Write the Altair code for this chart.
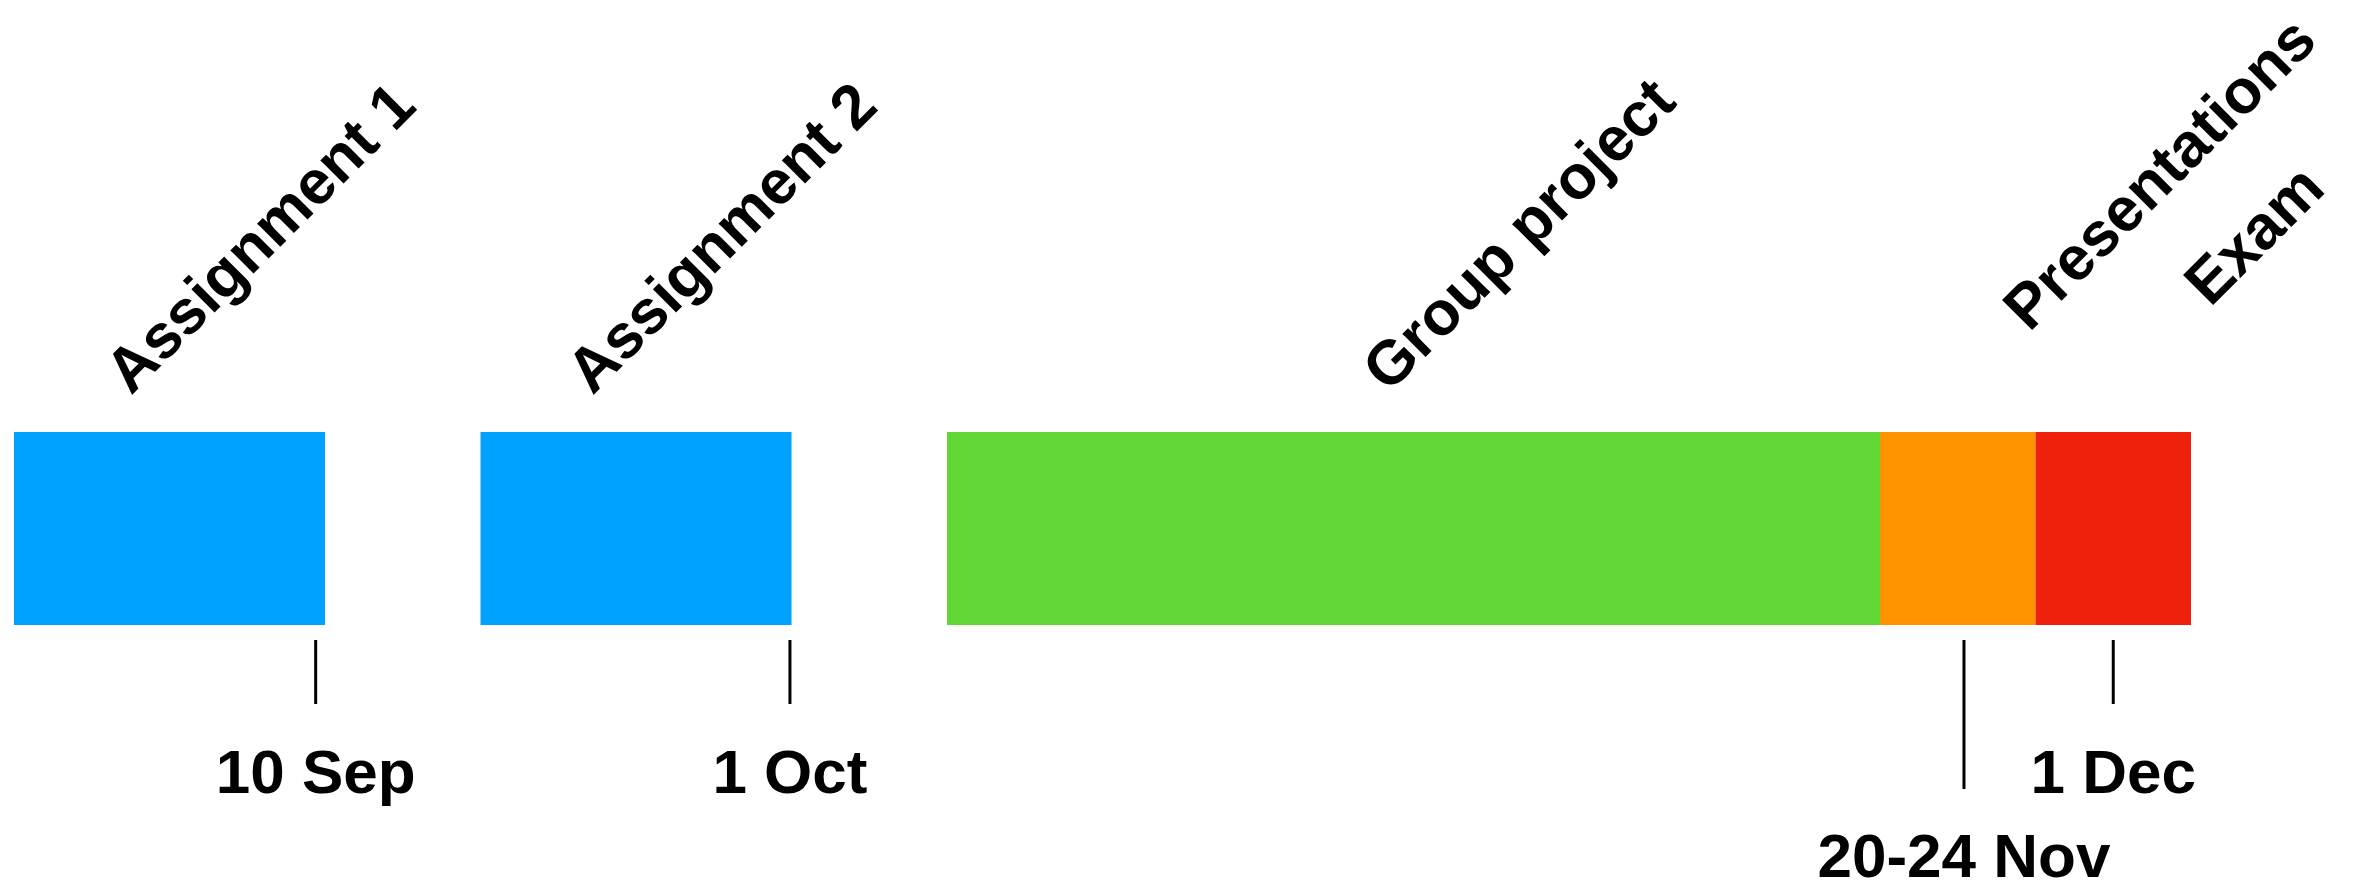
import altair as alt
import pandas as pd

# ---- data ----
tasks = ["Assignment 1", "Assignment 2", "Group project", "Presentations", "Exam"]
task_start = [0, 3, 6, 12, 13]
task_end = [2, 5, 12, 13, 14]
task_colors = ["#00A2FF", "#00A2FF", "#61D836", "#FF9300", "#EE220C"]

deadlines = ["10 Sep", "1 Oct", "20-24 Nov", "1 Dec"]
deadline_pos = [1.94, 4.99, 12.54, 13.5]
deadline_tier = [0, 0, 1, 0]

tasks_df = pd.DataFrame({"task": tasks, "start": task_start, "end": task_end})
dl_df = pd.DataFrame({"label": deadlines, "pos": deadline_pos, "tier": deadline_tier})

FONT = "Liberation Sans, Arial, Helvetica, sans-serif"
xscale = alt.Scale(domain=[0, 14], range=[6, 2183])

bars = alt.Chart(tasks_df).mark_rect().encode(
    x=alt.X("start:Q", scale=xscale, axis=None),
    x2="end:Q",
    y=alt.value(424),
    y2=alt.value(617),
    color=alt.Color("task:N", scale=alt.Scale(domain=tasks, range=task_colors), legend=None),
)

layers = [bars]

# rotated task labels: (anchor y, horizontal offset from bar centre)
label_style = {
    "Assignment 1": (388, -38.5),
    "Assignment 2": (388, -43.5),
    "Group project": (386, -25),
    "Presentations": (325, 71.5),
    "Exam": (300, 97),
}
for name, (ay, sx) in label_style.items():
    d = 0.70711 * sx
    layers.append(
        alt.Chart(tasks_df)
        .transform_filter(alt.datum.task == name)
        .transform_calculate(mid="(datum.start + datum.end) / 2")
        .mark_text(angle=315, align="left", baseline="alphabetic", font=FONT,
                   fontSize=62, fontWeight="bold", color="black", dx=d, dy=d)
        .encode(x=alt.X("mid:Q", scale=xscale, axis=None), y=alt.value(ay), text="task:N")
    )

# deadline ticks and labels
for tier, (y_end, y_text) in {0: (696, 785), 1: (781, 869)}.items():
    base = alt.Chart(dl_df).transform_filter(alt.datum.tier == tier)
    layers.append(
        base.mark_rule(color="black", strokeWidth=3).encode(
            x=alt.X("pos:Q", scale=xscale, axis=None),
            y=alt.value(632),
            y2=alt.value(y_end),
        )
    )
    layers.append(
        base.mark_text(align="center", baseline="alphabetic", font=FONT,
                       fontSize=62, fontWeight="bold", color="black").encode(
            x=alt.X("pos:Q", scale=xscale, axis=None),
            y=alt.value(y_text),
            text="label:N",
        )
    )

chart = alt.layer(*layers).properties(
    width=2340,
    height=870,
    autosize=alt.AutoSizeParams(type="none"),
    padding=0,
    background="white",
).configure_view(stroke=None)

chart.save("out.html", embed_options={"renderer": "svg", "actions": False})
